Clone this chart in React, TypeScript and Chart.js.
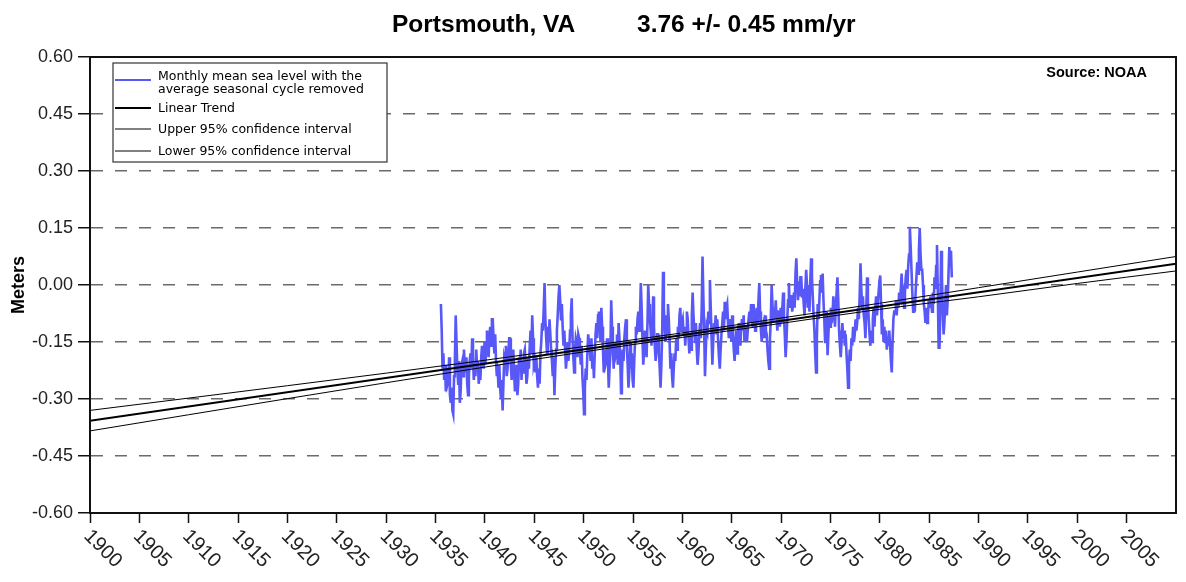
import React, { useEffect, useRef } from "react";
import { Chart, registerables } from "chart.js";

Chart.register(...registerables);

// ---- Data ----
const titleStation = "Portsmouth, VA";
const titleTrend = "3.76 +/- 0.45 mm/yr";
const sourceLabel = "Source: NOAA";
const yAxisTitle = "Meters";

const xMin = 1900;
const xMax = 2010;
const xStep = 5;
const yMin = -0.6;
const yMax = 0.6;
const yStep = 0.15;

// Monthly mean sea level (m), one row per calendar year starting 1935
// (first row starts in July, last row ends in April)
const seaLevelFirstYear = 1935;
const seaLevelRows = [
  [-0.05, -0.12, -0.22, -0.18, -0.25, -0.21],
  [-0.28, -0.22, -0.26, -0.25, -0.19, -0.29, -0.31, -0.27, -0.33, -0.34, -0.24, -0.20],
  [-0.08, -0.15, -0.22, -0.26, -0.20, -0.31, -0.28, -0.21, -0.20, -0.24, -0.17, -0.21],
  [-0.23, -0.19, -0.26, -0.29, -0.24, -0.20, -0.18, -0.22, -0.14, -0.19, -0.25, -0.21],
  [-0.24, -0.17, -0.22, -0.20, -0.26, -0.23, -0.25, -0.19, -0.16, -0.18, -0.22, -0.15],
  [-0.21, -0.17, -0.12, -0.15, -0.19, -0.13, -0.11, -0.16, -0.09, -0.09, -0.14, -0.18],
  [-0.13, -0.20, -0.24, -0.22, -0.27, -0.21, -0.27, -0.30, -0.25, -0.33, -0.26, -0.19],
  [-0.20, -0.16, -0.24, -0.22, -0.18, -0.14, -0.14, -0.21, -0.25, -0.20, -0.17, -0.23],
  [-0.28, -0.24, -0.21, -0.29, -0.26, -0.19, -0.22, -0.17, -0.25, -0.20, -0.23, -0.18],
  [-0.17, -0.21, -0.26, -0.24, -0.19, -0.22, -0.16, -0.12, -0.18, -0.08, -0.14, -0.21],
  [-0.20, -0.23, -0.19, -0.24, -0.27, -0.22, -0.26, -0.18, -0.15, -0.10, -0.12, -0.06],
  [0.005, -0.09, -0.14, -0.18, -0.11, -0.15, -0.09, -0.13, -0.17, -0.20, -0.24, -0.19],
  [-0.29, -0.22, -0.17, -0.12, -0.08, -0.03, 0.00, -0.04, -0.09, -0.05, -0.11, -0.16],
  [-0.12, -0.17, -0.22, -0.19, -0.15, -0.20, -0.17, -0.12, -0.08, -0.035, -0.14, -0.19],
  [-0.23, -0.18, -0.14, -0.15, -0.19, -0.13, -0.14, -0.17, -0.21, -0.16, -0.24, -0.28],
  [-0.34, -0.27, -0.22, -0.25, -0.18, -0.13, -0.13, -0.17, -0.20, -0.14, -0.22, -0.19],
  [-0.245, -0.18, -0.13, -0.10, -0.14, -0.08, -0.07, -0.10, -0.15, -0.06, -0.11, -0.17],
  [-0.23, -0.17, -0.21, -0.20, -0.14, -0.19, -0.27, -0.22, -0.18, -0.04, -0.11, -0.16],
  [-0.22, -0.15, -0.19, -0.18, -0.13, -0.21, -0.10, -0.14, -0.19, -0.285, -0.24, -0.17],
  [-0.20, -0.14, -0.11, -0.09, -0.16, -0.21, -0.27, -0.23, -0.15, -0.22, -0.18, -0.25],
  [-0.27, -0.20, -0.15, -0.11, -0.13, -0.09, -0.07, -0.12, -0.08, 0.005, -0.06, -0.14],
  [-0.21, -0.17, -0.12, -0.15, -0.19, -0.11, 0.00, -0.05, -0.09, -0.12, -0.16, -0.10],
  [-0.03, -0.11, -0.16, -0.20, -0.17, -0.13, -0.13, -0.18, -0.22, -0.27, -0.21, -0.12],
  [0.035, -0.06, -0.11, -0.15, -0.08, -0.13, -0.05, -0.09, -0.15, -0.22, -0.18, -0.24],
  [-0.27, -0.22, -0.18, -0.20, -0.14, -0.17, -0.11, -0.14, -0.08, -0.06, -0.12, -0.10],
  [-0.09, -0.13, -0.11, -0.16, -0.12, -0.07, -0.09, -0.14, -0.18, -0.13, -0.17, -0.08],
  [-0.02, -0.08, -0.12, -0.15, -0.10, -0.17, -0.21, -0.18, -0.13, -0.10, -0.14, -0.06],
  [0.075, -0.03, -0.12, -0.24, -0.17, -0.11, -0.12, -0.07, -0.10, 0.013, -0.06, -0.14],
  [-0.21, -0.15, -0.10, -0.12, -0.08, -0.13, -0.09, -0.15, -0.19, -0.22, -0.17, -0.13],
  [-0.10, -0.07, -0.12, -0.044, -0.09, -0.06, -0.05, -0.10, -0.14, -0.12, -0.09, -0.15],
  [-0.08, -0.13, -0.17, -0.20, -0.15, -0.12, -0.18, -0.14, -0.10, -0.12, -0.16, -0.11],
  [-0.09, -0.12, -0.08, -0.15, -0.11, -0.13, -0.15, -0.12, -0.09, -0.07, -0.10, -0.05],
  [-0.075, -0.11, -0.05, -0.08, -0.12, -0.09, -0.06, -0.10, -0.04, 0.005, -0.07, -0.12],
  [-0.15, -0.11, -0.10, -0.14, -0.08, -0.12, -0.13, -0.17, -0.20, -0.22, -0.14, -0.09],
  [0.00, -0.05, -0.10, -0.06, -0.09, -0.04, -0.09, -0.12, -0.07, -0.07, -0.11, -0.06],
  [-0.10, -0.06, -0.02, -0.08, -0.13, -0.19, -0.15, -0.09, -0.04, 0.005, -0.06, -0.03],
  [-0.03, -0.07, -0.05, -0.02, -0.06, 0.03, 0.07, 0.01, -0.04, 0.00, -0.03, 0.02],
  [0.02, -0.03, -0.01, -0.05, -0.08, -0.01, 0.04, 0.00, -0.06, -0.03, -0.07, 0.01],
  [0.07, 0.02, -0.03, -0.08, -0.12, -0.18, -0.23, -0.14, -0.05, -0.09, -0.04, 0.01],
  [0.026, -0.02, 0.03, -0.04, -0.09, -0.15, -0.12, -0.07, -0.185, -0.13, -0.08, -0.11],
  [-0.06, -0.10, -0.08, -0.03, -0.06, -0.11, -0.06, -0.02, 0.02, -0.04, -0.12, -0.16],
  [-0.19, -0.15, -0.10, -0.14, -0.12, -0.16, -0.13, -0.18, -0.22, -0.27, -0.21, -0.17],
  [-0.20, -0.14, -0.16, -0.11, -0.15, -0.13, -0.09, -0.12, -0.10, -0.06, -0.09, -0.03],
  [0.057, -0.01, -0.06, -0.03, -0.08, -0.10, -0.14, -0.07, 0.02, -0.04, -0.09, -0.13],
  [-0.16, -0.12, -0.15, -0.09, -0.06, -0.11, -0.06, -0.03, -0.08, -0.05, -0.02, 0.01],
  [0.025, -0.05, -0.13, -0.09, -0.15, -0.11, -0.15, -0.12, -0.17, -0.14, -0.16, -0.12],
  [-0.16, -0.20, -0.23, -0.15, -0.09, -0.07, -0.07, -0.04, -0.08, -0.04, -0.06, -0.02],
  [-0.05, -0.01, 0.03, -0.03, -0.02, -0.06, -0.02, 0.02, 0.04, -0.01, 0.05, 0.08],
  [0.153, 0.10, 0.04, -0.02, -0.07, -0.04, -0.07, -0.02, 0.02, 0.06, 0.03, 0.09],
  [0.15, 0.08, 0.04, 0.04, 0.00, -0.05, -0.07, -0.10, -0.06, -0.10, -0.08, -0.04],
  [-0.06, -0.03, -0.05, -0.07, -0.02, -0.05, 0.02, -0.01, 0.05, 0.105, -0.02, -0.165],
  [-0.165, -0.08, 0.09, 0.02, -0.06, -0.13, -0.10, -0.05, 0.0, -0.08, -0.04, 0.03],
  [0.10, 0.05, 0.09, 0.02],
];

const trendYears = [1900, 2010];
const trendValues = [-0.357, 0.056];

const ciYears = [1900, 1920, 1940, 1950, 1960, 1970, 1980, 1990, 2000, 2010];
const upperCI = [-0.330, -0.265, -0.198, -0.162, -0.126, -0.087, -0.048, -0.007, 0.034, 0.075];
const lowerCI = [-0.384, -0.299, -0.216, -0.176, -0.138, -0.101, -0.064, -0.031, 0.004, 0.037];

const legendLabels = [
  ["Monthly mean sea level with the", "average seasonal cycle removed"],
  ["Linear Trend"],
  ["Upper 95% confidence interval"],
  ["Lower 95% confidence interval"],
];

const BLUE = "#5858f8";
const SANS = '"Liberation Sans", Arial, sans-serif';

const overlayPlugin = {
  id: "overlay",
  afterDraw(chart: any) {
    const { ctx, chartArea } = chart;
    const { left, right, top, bottom } = chartArea;
    ctx.save();
    // Frame
    ctx.strokeStyle = "#111";
    ctx.lineWidth = 2;
    ctx.strokeRect(left, top, right - left, bottom - top);

    // X tick labels (rotated clockwise)
    const xs = chart.scales.x;
    ctx.fillStyle = "#222";
    ctx.font = `20px ${SANS}`;
    ctx.textAlign = "left";
    ctx.textBaseline = "middle";
    xs.ticks.forEach((t: any) => {
      if (t.value >= xMax) return;
      const px = xs.getPixelForValue(t.value);
      ctx.save();
      ctx.translate(px - 3, bottom + 20);
      ctx.rotate(Math.PI / 4);
      ctx.fillText(String(t.value), 0, 0);
      ctx.restore();
    });

    // Title
    ctx.fillStyle = "#000";
    ctx.font = `bold 24.5px ${SANS}`;
    ctx.textBaseline = "alphabetic";
    ctx.textAlign = "left";
    ctx.fillText(titleStation, 384, 24);
    ctx.fillText(titleTrend, 629, 24);

    // Source
    ctx.font = `bold 14.5px ${SANS}`;
    ctx.textAlign = "right";
    ctx.textBaseline = "middle";
    ctx.fillText(sourceLabel, right - 29, top + 16);

    // Legend
    const lx = left + 23;
    const ly = top + 6;
    const lw = 274;
    const lh = 99;
    ctx.fillStyle = "#fff";
    ctx.fillRect(lx, ly, lw, lh);
    ctx.strokeStyle = "#333";
    ctx.lineWidth = 1.2;
    ctx.strokeRect(lx, ly, lw, lh);

    const sampleX0 = lx + 2;
    const sampleX1 = lx + 38;
    const textX = lx + 45;
    ctx.font = `12.5px "DejaVu Sans", sans-serif`;
    ctx.textAlign = "left";
    ctx.textBaseline = "middle";
    ctx.fillStyle = "#000";
    const entries = [
      { lineY: ly + 17, textY: [ly + 13.5, ly + 27], color: BLUE, width: 2 },
      { lineY: ly + 45, textY: [ly + 45.5], color: "#000", width: 2 },
      { lineY: ly + 66, textY: [ly + 66.5], color: "#000", width: 1 },
      { lineY: ly + 88, textY: [ly + 88.5], color: "#000", width: 1 },
    ];
    entries.forEach((e, i) => {
      ctx.strokeStyle = e.color;
      ctx.lineWidth = e.width;
      ctx.beginPath();
      ctx.moveTo(sampleX0, e.lineY);
      ctx.lineTo(sampleX1, e.lineY);
      ctx.stroke();
      legendLabels[i].forEach((txt, j) => ctx.fillText(txt, textX, e.textY[j]));
    });
    ctx.restore();
  },
};

export default function App() {
  const canvasRef = useRef<HTMLCanvasElement | null>(null);

  useEffect(() => {
    if (!canvasRef.current) return;
    const seaPoints: { x: number; y: number }[] = [];
    seaLevelRows.forEach((row, r) => {
      const offset = r === 0 ? 12 - row.length : 0;
      row.forEach((v, m) => {
        seaPoints.push({ x: seaLevelFirstYear + r + (offset + m + 0.5) / 12, y: v });
      });
    });
    const trendPoints = trendYears.map((x, i) => ({ x, y: trendValues[i] }));
    const upperPoints = ciYears.map((x, i) => ({ x, y: upperCI[i] }));
    const lowerPoints = ciYears.map((x, i) => ({ x, y: lowerCI[i] }));

    const chart = new Chart(canvasRef.current, {
      type: "line",
      data: {
        datasets: [
          { label: "Linear Trend", data: trendPoints, borderColor: "#000", borderWidth: 2, pointRadius: 0, tension: 0 },
          { label: "Upper 95% confidence interval", data: upperPoints, borderColor: "#000", borderWidth: 1, pointRadius: 0, tension: 0.4, cubicInterpolationMode: "monotone" },
          { label: "Lower 95% confidence interval", data: lowerPoints, borderColor: "#000", borderWidth: 1, pointRadius: 0, tension: 0.4, cubicInterpolationMode: "monotone" },
          { label: "Monthly mean sea level", data: seaPoints, borderColor: BLUE, borderWidth: 2.6, pointRadius: 0, tension: 0 },
        ],
      },
      options: {
        responsive: false,
        animation: false,
        layout: { padding: { top: 49, right: 2, left: 0, bottom: 0 } },
        plugins: { legend: { display: false }, tooltip: { enabled: false }, title: { display: false } },
        scales: {
          x: {
            type: "linear",
            min: xMin,
            max: xMax,
            ticks: { stepSize: xStep, display: false },
            grid: {
              drawOnChartArea: false,
              drawTicks: true,
              tickLength: 10,
              tickWidth: 1.5,
              tickColor: (c: any) => (c.tick && c.tick.value >= xMax ? "rgba(0,0,0,0)" : "#111"),
            },
            border: { display: true, color: "#111", width: 2 },
            afterFit: (s: any) => { s.height = 61; },
          },
          y: {
            min: yMin,
            max: yMax,
            ticks: {
              stepSize: yStep,
              padding: 5,
              color: "#222",
              font: { family: SANS, size: 18 },
              callback: (v: any) => (Math.abs(Number(v)) < 1e-9 ? "0.00" : Number(v).toFixed(2)),
            },
            grid: {
              drawTicks: true,
              tickLength: 12,
              tickWidth: 1.5,
              tickColor: "#111",
              lineWidth: 1.5,
              color: (c: any) =>
                c.tick && (Math.abs(c.tick.value - yMin) < 1e-6 || Math.abs(c.tick.value - yMax) < 1e-6)
                  ? "rgba(0,0,0,0)"
                  : "#6a6a6a",
            },
            border: { display: true, color: "#111", width: 2, dash: [12, 12] },
            title: { display: true, text: yAxisTitle, color: "#000", font: { family: SANS, size: 18, weight: "bold" }, padding: { top: 0, bottom: 0 } },
            afterFit: (s: any) => { s.width = 82; },
          },
        },
      },
      plugins: [overlayPlugin],
    } as any);
    return () => chart.destroy();
  }, []);

  return (
    <div style={{ width: 1170, height: 566 }}>
      <canvas ref={canvasRef} width={1170} height={566} />
    </div>
  );
}
